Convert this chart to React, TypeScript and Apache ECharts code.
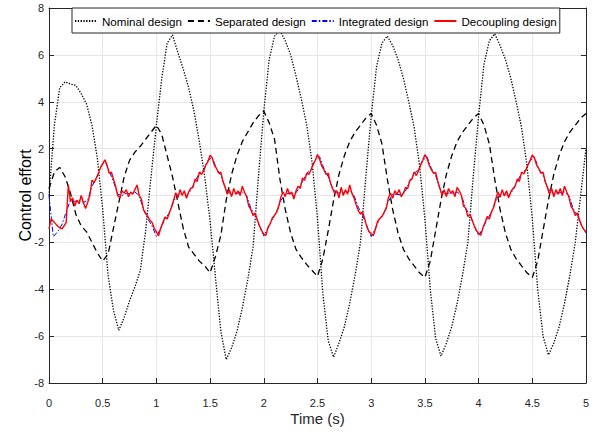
import React, { useEffect, useRef } from "react";
import * as echarts from "echarts";

// Sampling steps (seconds) of each recorded signal
const nominalStep = 0.05;
const separatedStep = 0.05;
const integratedStep = 0.04;
const decouplingStep = 0.02;

const seriesNames = ["Nominal design", "Separated design", "Integrated design", "Decoupling design"];
const xTicks = { min: 0, max: 5, interval: 0.5 };
const yTicks = { min: -8, max: 8, interval: 2 };

// Nominal design control effort, t = 0 .. 5 s
const nominal = [
  0.0, 3.0, 4.6, 4.85, 4.75, 4.7, 4.35, 3.9, 3.0, 1.6,
  -0.6, -3.4, -4.9, -5.75, -5.2, -4.5, -3.9, -3.2, -1.5, 0.8,
  3.0, 5.0, 6.5, 6.85, 6.1, 5.4, 4.6, 3.6, 2.3, 0.8,
  -1.1, -3.5, -5.8, -7.0, -6.5, -5.8, -4.8, -3.6, -2.2, 0.8,
  3.6, 5.8, 6.8, 7.05, 6.6, 6.0, 5.1, 4.1, 3.0, 1.4,
  -1.0, -4.2, -6.2, -6.9, -6.3, -5.6, -4.6, -3.4, -2.0, 0.8,
  3.4, 5.5, 6.5, 6.8, 6.4, 5.8, 5.0, 4.0, 2.9, 1.3,
  -1.0, -4.0, -6.1, -6.85, -6.3, -5.6, -4.6, -3.4, -2.0, 0.8,
  3.4, 5.6, 6.6, 6.9, 6.4, 5.8, 5.0, 4.0, 2.9, 1.3,
  -1.0, -4.0, -6.0, -6.8, -6.3, -5.6, -4.6, -3.4, -2.0, 0.0,
  2.0,
];

// Separated design control effort
const separated = [
  0.3, 1.0, 1.2, 0.8, 0.1, -0.8, -1.3, -1.55, -2.0, -2.45,
  -2.8, -2.5, -1.4, -0.3, 0.8, 1.5, 1.85, 2.1, 2.4, 2.7,
  3.0, 2.6, 1.7, 0.8, -0.3, -1.4, -2.2, -2.5, -2.8, -3.0,
  -3.3, -2.6, -1.7, -0.2, 0.9, 1.7, 2.3, 2.7, 3.1, 3.4,
  3.6, 3.1, 2.4, 0.7, -0.6, -1.6, -2.3, -2.65, -2.95, -3.2,
  -3.45, -2.7, -1.5, -0.2, 0.9, 1.7, 2.3, 2.7, 3.0, 3.3,
  3.5, 3.0, 2.2, 0.7, -0.6, -1.6, -2.3, -2.7, -3.0, -3.3,
  -3.5, -2.8, -1.5, -0.2, 0.9, 1.7, 2.3, 2.7, 3.0, 3.3,
  3.5, 3.0, 2.2, 0.7, -0.6, -1.6, -2.3, -2.7, -3.0, -3.3,
  -3.5, -2.8, -1.5, -0.2, 0.9, 1.7, 2.3, 2.7, 3.0, 3.3,
  3.5,
];

// Integrated design control effort
const integrated = [
  0.0, -1.76, -1.55, -1.25, -0.7, -0.2, -0.25, -0.2, -0.3, -0.2, 0.4, 0.7, 1.2, 1.5, 1.05, 0.6, 0.05, 0.0, 0.1, 0.05, 0.15, 0.0, -0.6, -1.0, -1.3,
  -1.75, -1.4, -1.0, -0.75, -0.25, 0.05, 0.05, 0.0, 0.2, 0.6, 0.95, 1.1, 1.5, 1.62, 1.15, 0.85, 0.35, 0.1, 0.1, 0.1, 0.15, 0.0, -0.55, -0.85, -1.3,
  -1.72, -1.38, -1.0, -0.7, -0.2, 0.05, 0.1, 0.0, 0.25, 0.6, 0.95, 1.1, 1.5, 1.65, 1.15, 0.8, 0.3, 0.1, 0.12, 0.1, 0.2, 0.0, -0.5, -0.85, -1.3,
  -1.75, -1.4, -0.98, -0.75, -0.25, 0.05, 0.05, 0.02, 0.2, 0.62, 0.95, 1.1, 1.5, 1.65, 1.15, 0.85, 0.3, 0.08, 0.1, 0.1, 0.15, 0.0, -0.55, -0.85, -1.3,
  -1.72, -1.4, -1.0, -0.72, -0.22, 0.05, 0.05, 0.0, 0.22, 0.6, 0.95, 1.1, 1.5, 1.64, 1.15, 0.85, 0.35, 0.1, 0.1, 0.12, 0.15, 0.0, -0.55, -0.85, -1.3,
  -1.6,
];

// Decoupling design control effort
const decoupling = [
  -1.42, -1.0, -1.1, -1.2, -1.3, -1.38, -1.42, -1.3, -1.15, 0.45,
  -0.25, -0.1, -0.45, -0.2, -0.35, 0.0, -0.3, -0.55, -0.3, 0.0,
  0.65, 0.55, 0.75, 0.95, 1.2, 1.35, 1.52, 1.3, 0.95, 1.0,
  0.7, 0.4, 0.0, -0.1, 0.2, 0.1, 0.25, -0.05, 0.15, 0.05,
  0.25, 0.45, 0.0, -0.15, -0.6, -0.75, -0.9, -1.05, -1.15, -1.4,

  -1.55, -1.72, -1.4, -1.15, -0.92, -1.0, -0.75, -0.5, -0.2, 0.12,
  -0.1, 0.25, 0.0, 0.2, -0.12, 0.15, 0.3, 0.35, 0.7, 0.6,
  1.0, 0.9, 1.05, 1.3, 1.45, 1.72, 1.6, 1.3, 1.15, 0.95,
  1.0, 0.6, 0.35, 0.05, 0.25, -0.05, 0.3, 0.05, 0.2, 0.0,
  0.4, 0.15, -0.05, -0.45, -0.6, -0.85, -0.75, -1.05, -1.3, -1.5,

  -1.65, -1.7, -1.35, -1.2, -0.95, -0.85, -0.7, -0.45, -0.05, 0.15,
  -0.05, 0.3, 0.05, 0.15, -0.15, 0.2, 0.4, 0.3, 0.75, 0.65,
  0.95, 0.9, 1.1, 1.35, 1.5, 1.75, 1.55, 1.25, 1.1, 0.9,
  0.95, 0.55, 0.3, 0.1, 0.2, -0.1, 0.35, 0.0, 0.25, 0.05,
  0.45, 0.1, -0.1, -0.4, -0.65, -0.8, -0.7, -1.0, -1.35, -1.55,

  -1.62, -1.72, -1.42, -1.1, -0.98, -0.9, -0.72, -0.55, -0.1, 0.1,
  -0.12, 0.2, 0.05, 0.25, -0.05, 0.1, 0.35, 0.3, 0.65, 0.7,
  1.0, 0.85, 1.05, 1.3, 1.5, 1.74, 1.58, 1.3, 1.1, 0.95,
  0.98, 0.6, 0.3, 0.0, 0.25, -0.05, 0.3, 0.1, 0.2, -0.05,
  0.35, 0.2, 0.0, -0.45, -0.55, -0.9, -0.8, -1.05, -1.3, -1.5,

  -1.6, -1.7, -1.38, -1.15, -0.9, -1.0, -0.7, -0.5, -0.15, 0.15,
  -0.08, 0.25, -0.02, 0.2, -0.1, 0.15, 0.3, 0.4, 0.7, 0.6,
  1.0, 0.92, 1.08, 1.32, 1.5, 1.73, 1.6, 1.3, 1.15, 0.95,
  1.0, 0.6, 0.35, 0.05, 0.3, -0.05, 0.25, 0.05, 0.3, 0.0,
  0.4, 0.15, -0.05, -0.45, -0.6, -0.85, -0.75, -1.05, -1.3, -1.45,

  -1.55,
];

const toPairs = (vals: number[], step: number) =>
  vals.map((v, i) => [Math.round(i * step * 1000) / 1000, v]);

const FONT = "'Liberation Sans', Arial, Helvetica, sans-serif";
const AXIS_COLOR = "#262626";
const GRID_COLOR = "#e6e6e6";

export default function App() {
  const ref = useRef<HTMLDivElement>(null);

  useEffect(() => {
    if (!ref.current) return;
    const chart = echarts.init(ref.current, undefined, { renderer: "svg" });

    const frameX = (position: "bottom" | "top", main: boolean) => ({
      type: "value" as const,
      position,
      ...xTicks,
      axisLine: { show: true, onZero: false, lineStyle: { color: AXIS_COLOR, width: 1 } },
      axisTick: { show: true, inside: true, length: 5, lineStyle: { color: AXIS_COLOR } },
      axisLabel: main
        ? { show: true, color: AXIS_COLOR, fontSize: 11, fontFamily: FONT, margin: 14 }
        : { show: false },
      splitLine: main ? { show: true, lineStyle: { color: GRID_COLOR, width: 1 } } : { show: false },
      name: main ? "Time (s)" : "",
      nameLocation: "middle" as const,
      nameGap: 28,
      nameMoveOverlap: false,
      nameTextStyle: { fontSize: 15, color: AXIS_COLOR, fontFamily: FONT },
    });

    const frameY = (position: "left" | "right", main: boolean) => ({
      type: "value" as const,
      position,
      ...yTicks,
      axisLine: { show: true, onZero: false, lineStyle: { color: AXIS_COLOR, width: 1 } },
      axisTick: { show: true, inside: true, length: 5, lineStyle: { color: AXIS_COLOR } },
      axisLabel: main
        ? { show: true, color: AXIS_COLOR, fontSize: 11, fontFamily: FONT, margin: 5 }
        : { show: false },
      splitLine: main ? { show: true, lineStyle: { color: GRID_COLOR, width: 1 } } : { show: false },
      name: main ? "Control effort" : "",
      nameLocation: "middle" as const,
      nameGap: 16,
      nameMoveOverlap: false,
      nameTextStyle: { fontSize: 16, color: "#000", fontFamily: FONT },
    });

    chart.setOption({
      animation: false,
      backgroundColor: "#fff",
      grid: { left: 49, right: 20, top: 8, bottom: 52, containLabel: false },
      xAxis: [frameX("bottom", true), frameX("top", false)],
      yAxis: [frameY("left", true), frameY("right", false)],
      legend: {
        left: 72,
        top: 8,
        itemWidth: 22,
        itemHeight: 10,
        itemGap: 5,
        padding: [7, 3, 6, 2],
        borderColor: AXIS_COLOR,
        borderWidth: 1,
        backgroundColor: "#fff",
        itemStyle: { opacity: 0 },
        textStyle: { fontSize: 11.6, color: "#000", fontFamily: FONT },
        data: seriesNames,
      },
      series: [
        {
          name: seriesNames[0],
          type: "line",
          data: toPairs(nominal, nominalStep),
          symbol: "none",
          lineStyle: { color: "#000", width: 1.3, type: [1.3, 1.5] },
          itemStyle: { color: "#000" },
        },
        {
          name: seriesNames[1],
          type: "line",
          data: toPairs(separated, separatedStep),
          symbol: "none",
          lineStyle: { color: "#000", width: 1.3, type: [6, 4] },
          itemStyle: { color: "#000" },
        },
        {
          name: seriesNames[2],
          type: "line",
          data: toPairs(integrated, integratedStep),
          symbol: "none",
          lineStyle: { color: "#0000ff", width: 1, type: [5, 2, 1.5, 2] },
          itemStyle: { color: "#0000ff" },
        },
        {
          name: seriesNames[3],
          type: "line",
          data: toPairs(decoupling, decouplingStep),
          symbol: "none",
          lineStyle: { color: "#ff0000", width: 1.4 },
          itemStyle: { color: "#ff0000" },
        },
      ],
    });

    return () => chart.dispose();
  }, []);

  return (
    <div
      ref={ref}
      style={{ position: "absolute", left: 0, top: 0, width: 606, height: 435 }}
    />
  );
}
